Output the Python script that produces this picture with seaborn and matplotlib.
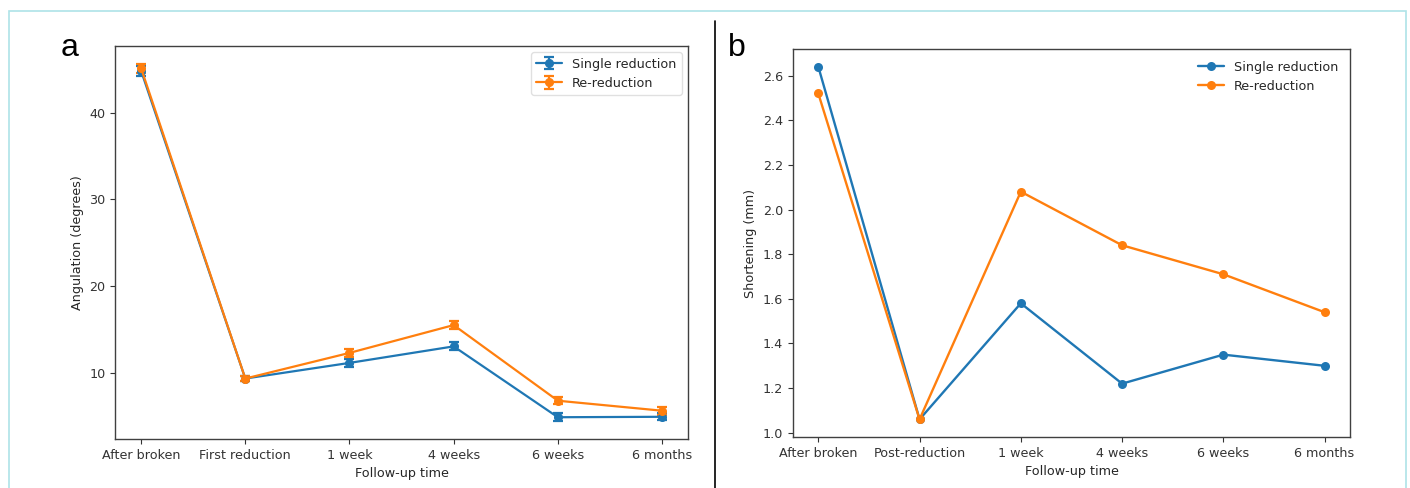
import matplotlib
matplotlib.use('Agg')
import matplotlib.pyplot as plt
import seaborn as sns
import pandas as pd
from matplotlib.lines import Line2D
from matplotlib.patches import Rectangle

# --- datos ---
tiempos_a = ['After broken', 'First reduction', '1 week', '4 weeks', '6 weeks', '6 months']
tiempos_b = ['After broken', 'Post-reduction', '1 week', '4 weeks', '6 weeks', '6 months']

ang_single = [44.8, 9.4, 11.2, 13.1, 4.95, 5.0]
ang_single_err = [0.6, 0.3, 0.45, 0.45, 0.45, 0.4]
ang_re = [45.1, 9.4, 12.35, 15.55, 6.85, 5.7]
ang_re_err = [0.5, 0.3, 0.45, 0.5, 0.4, 0.45]

short_single = [2.64, 1.06, 1.58, 1.22, 1.35, 1.30]
short_re = [2.52, 1.06, 2.08, 1.84, 1.71, 1.54]

grupos = ['Single reduction', 'Re-reduction']
colores = {'Single reduction': '#1f77b4', 'Re-reduction': '#ff7f0e'}

sns.set_style('ticks')
plt.rcParams['font.family'] = ['DejaVu Sans']
plt.rcParams['axes.edgecolor'] = '.25'
plt.rcParams['axes.linewidth'] = 1.0
plt.rcParams['xtick.color'] = '.2'
plt.rcParams['ytick.color'] = '.2'
FS = 9.2

fig = plt.figure(figsize=(14.1, 4.88), dpi=100)
ax_a = fig.add_axes([0.0816, 0.1004, 0.4064, 0.8053])
ax_b = fig.add_axes([0.5624, 0.1045, 0.395, 0.795])

# --- panel a: angulacion con barras de error ---
x_pos = range(len(tiempos_a))
for nombre, vals, errs in [(grupos[0], ang_single, ang_single_err),
                           (grupos[1], ang_re, ang_re_err)]:
    ax_a.errorbar(x_pos, vals, yerr=errs, marker='o', markersize=5.5, capsize=3.5,
                  elinewidth=1.6, capthick=1.6, linewidth=1.6,
                  color=colores[nombre], label=nombre)
ax_a.set_xticks(list(x_pos))
ax_a.set_xticklabels(tiempos_a)
ax_a.set_xlabel('Follow-up time', fontsize=FS)
ax_a.set_ylabel('Angulation (degrees)', fontsize=FS)
ax_a.tick_params(labelsize=FS)
ax_a.legend(loc='upper right', fontsize=FS, frameon=True, edgecolor='.85')

# --- panel b: acortamiento ---
df_b = pd.DataFrame({
    'tiempo': tiempos_b * 2,
    'valor': short_single + short_re,
    'grupo': [grupos[0]] * len(tiempos_b) + [grupos[1]] * len(tiempos_b),
})
for nombre in grupos:
    sub = df_b[df_b['grupo'] == nombre]
    sns.lineplot(data=sub, x='tiempo', y='valor', marker='o', markersize=6.5,
                 markeredgewidth=0, linewidth=1.7, color=colores[nombre],
                 label=nombre, sort=False, ax=ax_b)
ax_b.set_xlabel('Follow-up time', fontsize=FS)
ax_b.set_ylabel('Shortening (mm)', fontsize=FS)
ax_b.tick_params(labelsize=FS)
ax_b.legend(loc='upper right', fontsize=FS, frameon=False)

# etiquetas de panel
fig.text(61 / 1410, 1 - 56 / 488, 'a', fontsize=23, family=['Liberation Sans'],
         color='black', ha='left', va='baseline')
fig.text(728 / 1410, 1 - 56 / 488, 'b', fontsize=23, family=['Liberation Sans'],
         color='black', ha='left', va='baseline')

# marco exterior y separador
fig.add_artist(Rectangle((9 / 1410, -0.05), (1406 - 9) / 1410, 1.05 - 11 / 488,
                         transform=fig.transFigure, fill=False,
                         edgecolor='#aee3e8', linewidth=1.2))
fig.add_artist(Line2D([715 / 1410, 715 / 1410], [0, 1 - 21 / 488],
                      transform=fig.transFigure, color='black', linewidth=1.2))

fig.savefig('out.png', dpi=100)
